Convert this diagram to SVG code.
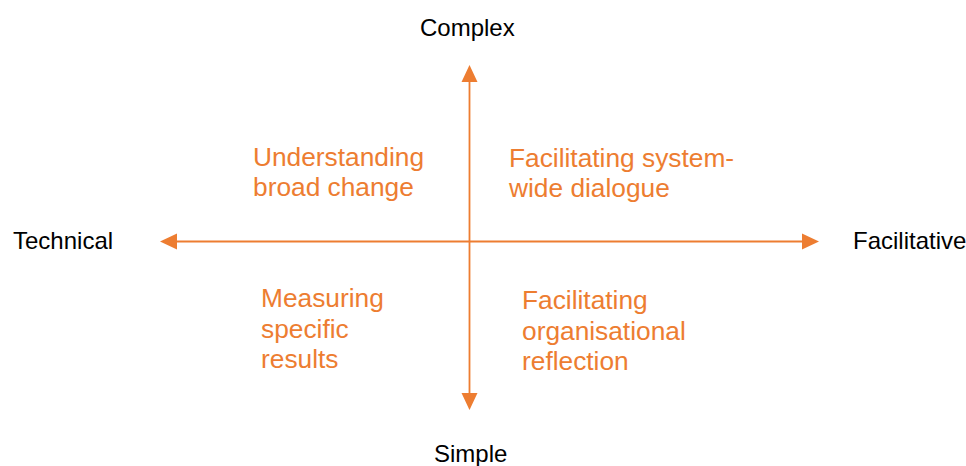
<svg xmlns="http://www.w3.org/2000/svg" width="966" height="466" viewBox="0 0 966 466">
  <style>
    .axis { stroke: #ED7D31; stroke-width: 1.8; fill: none; }
    .head { fill: #ED7D31; stroke: none; }
    .pole { font-family: "Liberation Sans", Arial, sans-serif; font-size: 24px; fill: #000000; }
    .quad { font-family: "Liberation Sans", Arial, sans-serif; font-size: 26.3px; fill: #ED7D31; }
  </style>
  <rect width="966" height="466" fill="#FFFFFF"/>

  <!-- axes -->
  <g id="connectors">
    <line class="axis" x1="469.5" y1="80" x2="469.5" y2="395"/>
    <polygon class="head" points="469.5,65 461.5,82 477.5,82"/>
    <polygon class="head" points="469.5,410 461.5,393 477.5,393"/>
    <line class="axis" x1="175" y1="241.5" x2="805" y2="241.5"/>
    <polygon class="head" points="160,241.5 177,233.5 177,249.5"/>
    <polygon class="head" points="819,241.5 802,233.5 802,249.5"/>
  </g>

  <!-- axis poles -->
  <g id="complex"><text class="pole" x="420" y="36">Complex</text></g>
  <g id="simple"><text class="pole" x="434" y="462">Simple</text></g>
  <g id="technical"><text class="pole" x="13" y="249">Technical</text></g>
  <g id="facilitative"><text class="pole" x="853" y="249">Facilitative</text></g>

  <!-- quadrants -->
  <g id="understanding-broad-change">
    <text class="quad" x="253" y="166">Understanding</text>
    <text class="quad" x="253" y="195.5">broad change</text>
  </g>
  <g id="facilitating-system-wide-dialogue">
    <text class="quad" x="509" y="167">Facilitating system-</text>
    <text class="quad" x="509" y="196.5">wide dialogue</text>
  </g>
  <g id="measuring-specific-results">
    <text class="quad" x="261" y="307">Measuring</text>
    <text class="quad" x="261" y="337.5">specific</text>
    <text class="quad" x="261" y="368">results</text>
  </g>
  <g id="facilitating-organisational-reflection">
    <text class="quad" x="522" y="309">Facilitating</text>
    <text class="quad" x="522" y="339.5">organisational</text>
    <text class="quad" x="522" y="370">reflection</text>
  </g>
</svg>
